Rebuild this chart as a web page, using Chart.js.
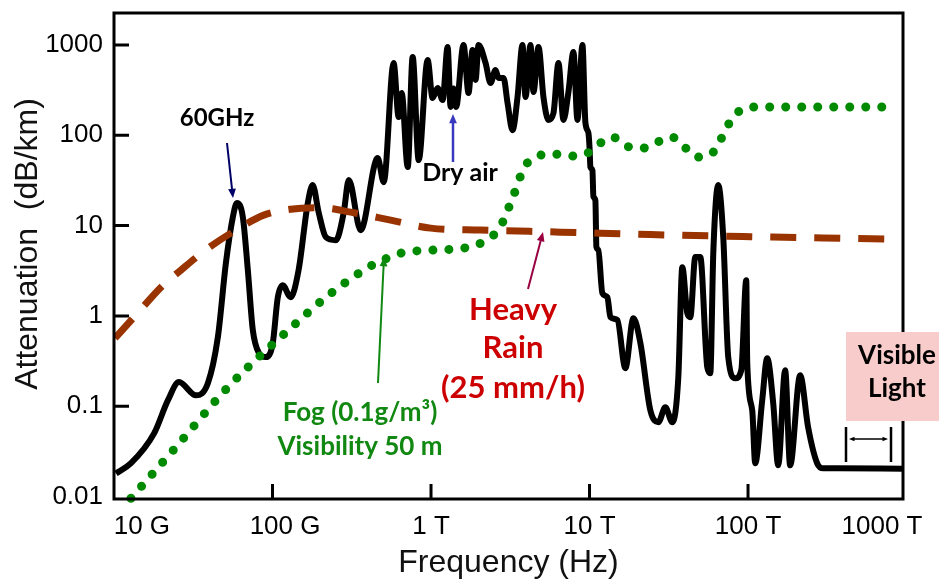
<!DOCTYPE html>
<html>
<head>
<meta charset="utf-8">
<script src="https://cdn.jsdelivr.net/npm/chart.js@4.4.1/dist/chart.umd.min.js"></script>
<style>
  html, body { margin: 0; padding: 0; background: #fff; }
</style>
</head>
<body>
<canvas id="chart" width="939" height="582"></canvas>
<script>
'use strict';

// [frequency in GHz, attenuation in dB/km]
const totalAttenuation = [
  [10.3, 0.018], [12.8, 0.0234], [17.9, 0.050], [21.9, 0.117], [25.7, 0.185],
  [32.9, 0.132], [39.1, 0.18], [45.2, 0.58], [50.8, 3.84], [56.2, 12.4],
  [59.6, 17.8], [65.0, 12.4], [69.9, 3.2], [75.1, 0.70], [82.0, 0.39],
  [90.8, 0.35], [100.4, 0.50], [108, 1.61], [116, 2.19], [130, 1.61],
  [146, 3.2], [167, 17.8], [179, 28.1], [196, 13.75], [217, 7.46],
  [251, 6.9], [281, 13.75], [303, 31.9], [360, 8.9], [461, 56],
  [503, 30.3], [581, 632], [625, 159], [653, 294], [713, 44.5],
  [766, 736], [836, 53.2], [952, 682], [1023, 259], [1101, 334],
  [1184, 246], [1273, 950], [1329, 206], [1388, 330], [1440, 206],
  [1604, 1000], [1725, 294], [1828, 880], [1910, 410], [1995, 1000],
  [2208, 632], [2374, 379], [2553, 528], [2667, 431], [2868, 431],
  [3040, 228], [3268, 114], [3514, 265], [3778, 1000], [3946, 265],
  [4243, 1000], [4432, 302], [4764, 950], [5122, 265], [5508, 148],
  [5922, 176], [6368, 632], [6847, 148], [7362, 302], [7918, 836],
  [8392, 148], [9022, 1000], [9423, 137], [9842, 106], [10000, 74],
  [10130, 44.5], [10430, 41], [10580, 21], [10890, 19], [11050, 5.8],
  [11370, 5.35], [12050, 1.79], [12970, 1.61], [13540, 0.97], [14990, 0.90],
  [16830, 0.264], [18910, 0.944], [20940, 0.50], [24200, 0.090], [27180, 0.0665],
  [30080, 0.0975], [33300, 0.0665], [36330, 0.21], [38500, 3.47], [41400, 1.07],
  [43240, 0.97], [46470, 4.48], [49960, 4.48], [55330, 0.27], [57790, 0.232],
  [60370, 4.96], [64900, 28.1], [69780, 7.46], [75030, 0.349], [83070, 0.204],
  [90640, 0.25], [97450, 2.49], [98880, 0.30], [106300, 0.09], [111000, 0.0234],
  [122900, 0.1165], [132100, 0.34], [144200, 0.108], [155000, 0.0222], [171500, 0.25],
  [184400, 0.0222], [213200, 0.22], [239400, 0.0585], [272900, 0.0234], [297800, 0.0206],
  [364900, 0.0206], [950600, 0.0203]
];

const heavyRain = [
  [10.15, 0.567], [15.2, 1.25], [19.8, 2.08], [26.4, 3.21], [39.3, 5.63],
  [63.1, 9.62], [88.1, 13.07], [130, 15.2], [201, 15.8], [311, 14.1],
  [556, 11.5], [994, 9.38], [2053, 8.92], [6560, 8.47], [24200, 7.95],
  [103300, 7.55], [950000, 7.05]
];

const fog = [
  [12.8, 0.00956], [24.2, 0.0342], [53.8, 0.171], [130, 0.732], [226, 1.70],
  [404, 3.47], [510, 4.25], [692, 5.09], [1750, 5.78], [2274, 7.09],
  [2706, 9.38], [3268, 20.2], [3889, 44.5], [4695, 58.9], [5922, 62.0],
  [7470, 58.9], [9423, 62.0], [13940, 95.6], [17080, 76.0], [21550, 72.2],
  [32820, 95.6], [48560, 57.4], [60370, 65.2], [76170, 136.7], [88050, 185.6],
  [109500, 205.6], [764700, 205.6]
];

const xLabelValues = [1.5e10, 1.2e11, 1e12, 1e13, 1e14, 7e14];
const xLabels = ['10 G', '100 G', '1 T', '10 T', '100 T', '1000 T'];
const xTickMarks = [1e11, 1e12, 1e13, 1e14];
const yTickValues = [0.01, 0.1, 1, 10, 100, 1000];
const yLabels = ['0.01', '0.1', '1', '10', '100', '1000'];

const toPoints = (list) => list.map(p => ({ x: p[0] * 1e9, y: p[1] }));

const arrow = (ctx, x1, y1, x2, y2, color, width, head) => {
  const ang = Math.atan2(y2 - y1, x2 - x1);
  ctx.save();
  ctx.strokeStyle = color;
  ctx.fillStyle = color;
  ctx.lineWidth = width;
  ctx.beginPath();
  ctx.moveTo(x1, y1);
  ctx.lineTo(x2 - Math.cos(ang) * head * 0.8, y2 - Math.sin(ang) * head * 0.8);
  ctx.stroke();
  ctx.beginPath();
  ctx.moveTo(x2, y2);
  ctx.lineTo(x2 - head * Math.cos(ang - 0.4), y2 - head * Math.sin(ang - 0.4));
  ctx.lineTo(x2 - head * Math.cos(ang + 0.4), y2 - head * Math.sin(ang + 0.4));
  ctx.closePath();
  ctx.fill();
  ctx.restore();
};

const text = (ctx, str, x, y, color, font) => {
  ctx.save();
  ctx.font = font;
  ctx.fillStyle = color;
  ctx.textAlign = 'center';
  ctx.textBaseline = 'middle';
  ctx.fillText(str, x, y);
  ctx.restore();
};

const decorations = {
  id: 'decorations',
  afterDraw(chart) {
    const { ctx, chartArea: a, scales } = chart;
    ctx.save();
    // frame
    ctx.strokeStyle = '#000';
    ctx.lineWidth = 3;
    ctx.strokeRect(a.left, a.top, a.right - a.left, a.bottom - a.top);
    // inward tick marks
    ctx.beginPath();
    xTickMarks.forEach(v => {
      const x = scales.x.getPixelForValue(v);
      ctx.moveTo(x, a.bottom);
      ctx.lineTo(x, a.bottom - 15);
    });
    yTickValues.forEach(v => {
      const y = scales.y.getPixelForValue(v);
      if (a.bottom - y < 6) return;
      ctx.moveTo(a.left, y);
      ctx.lineTo(a.left + 15, y);
    });
    ctx.stroke();

    // y axis title
    ctx.save();
    ctx.translate(28, 244);
    ctx.rotate(-Math.PI / 2);
    ctx.font = '32px "Liberation Sans", Arial, sans-serif';
    ctx.fillStyle = '#111';
    ctx.textAlign = 'center';
    ctx.textBaseline = 'middle';
    ctx.fillText('Attenuation  (dB/km)', 0, 0);
    ctx.restore();

    const bold = (s) => 'bold ' + s + 'px Lato, "Open Sans", sans-serif';

    text(ctx, '60GHz', 217, 118, '#000', bold(24));
    arrow(ctx, 227, 143, 233, 198, '#000066', 2, 10);

    text(ctx, 'Dry air', 460, 173, '#000', bold(25));
    arrow(ctx, 453, 162, 453, 114, '#3a3ac0', 2.5, 10);

    text(ctx, 'Heavy', 513, 310, '#cc0000', bold(31));
    text(ctx, 'Rain', 513, 348, '#cc0000', bold(31));
    text(ctx, '(25 mm/h)', 513, 388, '#cc0000', bold(31));
    arrow(ctx, 528, 289, 543, 232, '#990040', 2, 10);

    text(ctx, 'Fog (0.1g/m\u00B3)', 360, 413, '#118811', bold(26));
    text(ctx, 'Visibility 50 m', 360, 447, '#118811', bold(26));
    arrow(ctx, 378, 383, 384, 257, '#118811', 2, 10);

    // visible light box
    ctx.fillStyle = '#f9cccc';
    ctx.fillRect(846, 332, 939 - 846, 421 - 332);
    text(ctx, 'Visible', 897, 356, '#000', bold(26));
    text(ctx, 'Light', 897, 389, '#000', bold(26));

    // bracket
    ctx.strokeStyle = '#000';
    ctx.lineWidth = 2.5;
    ctx.beginPath();
    ctx.moveTo(846, 427); ctx.lineTo(846, 462);
    ctx.moveTo(891, 427); ctx.lineTo(891, 462);
    ctx.stroke();
    ctx.restore();
    arrow(ctx, 868, 439, 849, 439, '#000', 1.5, 6);
    arrow(ctx, 868, 439, 888, 439, '#000', 1.5, 6);
  }
};

new Chart(document.getElementById('chart'), {
  type: 'line',
  data: {
    datasets: [
      {
        label: 'Heavy Rain',
        data: toPoints(heavyRain),
        borderColor: '#993300',
        borderWidth: 7,
        borderDash: [26, 18],
        pointRadius: 0,
        cubicInterpolationMode: 'monotone'
      },
      {
        label: 'Fog',
        data: toPoints(fog),
        borderColor: '#008a00',
        borderWidth: 9,
        borderDash: [0.01, 16],
        borderCapStyle: 'round',
        pointRadius: 0,
        cubicInterpolationMode: 'monotone',
        clip: 8
      },
      {
        label: 'Total',
        data: toPoints(totalAttenuation),
        borderColor: '#000',
        borderWidth: 6,
        borderJoinStyle: 'round',
        pointRadius: 0,
        cubicInterpolationMode: 'monotone'
      }
    ]
  },
  options: {
    responsive: false,
    animation: false,
    devicePixelRatio: 1,
    layout: { padding: { top: 13, right: 36, left: 0, bottom: 0 } },
    plugins: { legend: { display: false }, tooltip: { enabled: false } },
    scales: {
      x: {
        type: 'logarithmic',
        min: 1.0e10,
        max: 9.5e14,
        grid: { display: false, drawTicks: false },
        border: { display: false },
        afterBuildTicks: (scale) => { scale.ticks = xLabelValues.map(v => ({ value: v })); },
        afterFit: (scale) => {
          scale.height = 83;
          scale.paddingLeft = 0;
          scale.paddingRight = 0;
        },
        ticks: {
          autoSkip: false,
          maxRotation: 0,
          padding: 12,
          color: '#000',
          font: { family: '"Liberation Sans", Arial, sans-serif', size: 26 },
          callback: (v, i) => xLabels[i]
        },
        title: {
          display: true,
          text: 'Frequency (Hz)',
          color: '#111',
          padding: { top: 0, bottom: 0 },
          font: { family: '"Liberation Sans", Arial, sans-serif', size: 32 }
        }
      },
      y: {
        type: 'logarithmic',
        min: 0.0094,
        max: 2260,
        grid: { display: false, drawTicks: false },
        border: { display: false },
        afterBuildTicks: (scale) => { scale.ticks = yTickValues.map(v => ({ value: v })); },
        afterFit: (scale) => {
          scale.width = 114;
          scale.paddingTop = 0;
          scale.paddingBottom = 0;
        },
        ticks: {
          padding: 11,
          color: '#000',
          font: { family: '"Liberation Sans", Arial, sans-serif', size: 26 },
          callback: (v, i) => yLabels[i]
        }
      }
    }
  },
  plugins: [decorations]
});
</script>
</body>
</html>
